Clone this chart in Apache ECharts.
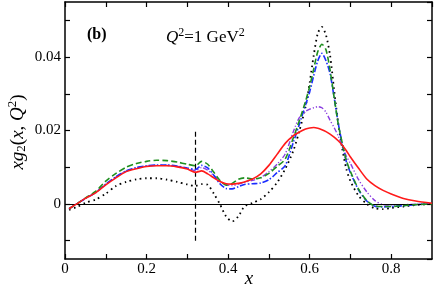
<!DOCTYPE html>
<html>
<head>
<meta charset="utf-8">
<script src="https://cdn.jsdelivr.net/npm/echarts@6/dist/echarts.min.js"></script>
<style>html,body{margin:0;padding:0;background:#fff}#c{width:436px;height:288px}</style>
</head>
<body>
<div id="c"></div>
<script>
var xs = [0.01,0.03,0.05,0.075,0.1,0.125,0.15,0.175,0.2,0.225,0.25,0.275,0.3,0.32,0.335,0.35,0.365,0.38,0.395,0.41,0.425,0.44,0.46,0.48,0.5,0.52,0.54,0.56,0.575,0.59,0.6,0.61,0.62,0.63,0.64,0.65,0.66,0.67,0.68,0.69,0.7,0.72,0.74,0.76,0.78,0.8,0.83,0.86,0.9];
var redSolid = [-0.0013,0.0001,0.0015,0.003,0.0052,0.0071,0.0088,0.0096,0.0102,0.0104,0.0104,0.0101,0.0095,0.0086,0.009,0.0082,0.0071,0.0061,0.0055,0.0054,0.0056,0.006,0.0068,0.0082,0.0105,0.0135,0.0165,0.0186,0.0196,0.0204,0.0207,0.0208,0.0206,0.0202,0.0197,0.019,0.0182,0.0172,0.016,0.0145,0.0128,0.0097,0.0068,0.005,0.0037,0.0027,0.0015,0.0008,0.0002];
var greenDashed = [-0.0013,0.0001,0.0016,0.0034,0.0062,0.0083,0.01,0.011,0.0116,0.0119,0.0118,0.0114,0.0108,0.0104,0.0116,0.0108,0.0086,0.0064,0.0051,0.0056,0.0067,0.0071,0.0068,0.0071,0.0083,0.0102,0.0122,0.018,0.0228,0.028,0.032,0.0368,0.0415,0.0435,0.042,0.0365,0.029,0.0218,0.0165,0.0118,0.0088,0.004,0.0009,-0.0006,-0.0007,-0.0007,-0.0005,-0.0002,0];
var blueDashDot = [-0.0013,0.0001,0.0015,0.0031,0.0054,0.0074,0.009,0.0099,0.0104,0.0106,0.0106,0.0103,0.0098,0.0094,0.0105,0.0098,0.0078,0.0055,0.0042,0.0041,0.0047,0.0053,0.0055,0.0057,0.0066,0.0085,0.0104,0.0168,0.0218,0.027,0.0305,0.035,0.039,0.041,0.039,0.0355,0.029,0.022,0.0163,0.0115,0.0085,0.0038,0.0008,-0.0006,-0.0008,-0.0007,-0.0005,-0.0002,0];
var purpleDashDotDot = [-0.0013,0.0001,0.0015,0.0031,0.0053,0.0073,0.0089,0.0098,0.0103,0.0105,0.0105,0.0102,0.0097,0.0091,0.0099,0.0092,0.0077,0.0062,0.0053,0.005,0.0054,0.0059,0.0064,0.0072,0.0088,0.0108,0.0136,0.0197,0.0236,0.0252,0.0258,0.0262,0.0265,0.0262,0.025,0.0228,0.0208,0.0185,0.0156,0.013,0.011,0.0066,0.0033,0.0009,-0.0002,-0.0003,-0.0002,-0.0001,0];
var blackDotted = [-0.0016,-0.0008,0.0003,0.0012,0.0028,0.0049,0.006,0.0067,0.007,0.007,0.0066,0.006,0.0053,0.0049,0.0054,0.0052,0.0028,-0.0001,-0.0034,-0.0048,-0.0034,-0.0007,0.0003,0.0013,0.0032,0.0058,0.0095,0.0145,0.02,0.0265,0.033,0.0405,0.0465,0.0482,0.046,0.0405,0.031,0.022,0.015,0.0095,0.0062,0.0022,0,-0.0012,-0.0014,-0.0011,-0.0007,-0.0003,0];
var xTickLabels = ['0','0.2','0.4','0.6','0.8'];
var yTickLabels = ['0','0.02','0.04'];
var cutX = 0.32, cutYFrom = -0.01, cutYTo = 0.02;

var FONT = 'Liberation Serif';
function pairs(ys){ return xs.map(function(x,i){ return [x, ys[i]]; }); }
function xFmt(v){ var s = String(Math.round(v*10)/10); return xTickLabels.indexOf(s) >= 0 ? s : ''; }
function yFmt(v){ var r = Math.round(v*1000)/1000; var s = r === 0 ? '0' : r.toFixed(2); return yTickLabels.indexOf(s) >= 0 ? s : ''; }

var chart = echarts.init(document.getElementById('c'));
function common(){
  return {
    axisLine: {show: true, onZero: false, lineStyle: {color: '#000', width: 1.5}},
    axisTick: {show: true, inside: true, length: 5, lineStyle: {color: '#000', width: 1.2}},
    splitLine: {show: false}
  };
}
function line(name, ys, color, type, width, z){
  return {name: name, type: 'line', data: pairs(ys), showSymbol: false, smooth: 0.25, z: z,
    lineStyle: {color: color, type: type, width: width}, animation: false};
}
var s = [
  line('red', redSolid, '#ff1a1a', 'solid', 1.6, 6),
  line('purple', purpleDashDotDot, '#8a3ee0', [5,2,1.2,2,1.2,2], 1.4, 3),
  line('blue', blueDashDot, '#1a2cff', [6,2,1.5,2], 1.6, 4),
  line('green', greenDashed, '#1f8f1f', [6,3], 1.6, 5),
  line('black', blackDotted, '#000', [1.6,3.6], 1.8, 2)
];
s[0].markLine = {silent: true, symbol: 'none', label: {show: false}, animation: false,
  data: [
    [{coord: [0, 0], lineStyle: {color: '#000', type: 'solid', width: 1.2}}, {coord: [0.9, 0]}],
    [{coord: [cutX, cutYFrom], lineStyle: {color: '#000', type: [5,3], width: 1.2}}, {coord: [cutX, cutYTo]}]
  ]};
chart.setOption({
  animation: false,
  grid: {left: 65, top: 2, width: 367, height: 257, containLabel: false, outerBoundsMode: 'none'},
  xAxis: [
    Object.assign(common(), {type: 'value', min: 0, max: 0.9, interval: 0.1, position: 'bottom',
      axisLabel: {formatter: xFmt, color: '#000', fontFamily: FONT, fontSize: 15, margin: 3, showMinLabel: true, showMaxLabel: false}}),
    Object.assign(common(), {type: 'value', min: 0, max: 0.9, interval: 0.1, position: 'top', axisLabel: {show: false}})
  ],
  yAxis: [
    Object.assign(common(), {type: 'value', min: -0.015, max: 0.055, splitNumber: 7, position: 'left',
      axisLabel: {formatter: yFmt, color: '#000', fontFamily: FONT, fontSize: 15, margin: 4, showMinLabel: false, showMaxLabel: false}}),
    Object.assign(common(), {type: 'value', min: -0.015, max: 0.055, splitNumber: 7, position: 'right', axisLabel: {show: false}})
  ],
  series: s,
  graphic: [
    {type: 'text', x: 87, y: 35, style: {text: '(b)', font: 'bold 16px "Liberation Serif"', fill: '#000', verticalAlign: 'middle', align: 'left'}},
    {type: 'text', x: 249, y: 279, style: {text: 'x', font: 'italic 19px "Liberation Serif"', fill: '#000', verticalAlign: 'middle', align: 'center'}},
    {type: 'text', x: 166, y: 38, style: {
      text: '{i|Q}{sup|2}{n|=1 GeV}{sup|2}', verticalAlign: 'middle', align: 'left',
      rich: {
        i: {fontFamily: FONT, fontStyle: 'italic', fontSize: 17, fill: '#000'},
        n: {fontFamily: FONT, fontSize: 17, fill: '#000'},
        sup: {fontFamily: FONT, fontSize: 12, fill: '#000', padding: [0,0,10,0]}
      }}},
    {type: 'text', x: 18, y: 132, rotation: Math.PI/2, style: {
      text: '{i|xg}{sub|2}{n|(}{i|x}{n|, }{i|Q}{sup|2}{n|)}', verticalAlign: 'middle', align: 'center',
      rich: {
        i: {fontFamily: FONT, fontStyle: 'italic', fontSize: 19, fill: '#000'},
        n: {fontFamily: FONT, fontSize: 19, fill: '#000'},
        sub: {fontFamily: FONT, fontSize: 13, fill: '#000', padding: [8,0,0,0]},
        sup: {fontFamily: FONT, fontSize: 13, fill: '#000', padding: [0,0,10,0]}
      }}}
  ]
});
</script>
</body>
</html>
